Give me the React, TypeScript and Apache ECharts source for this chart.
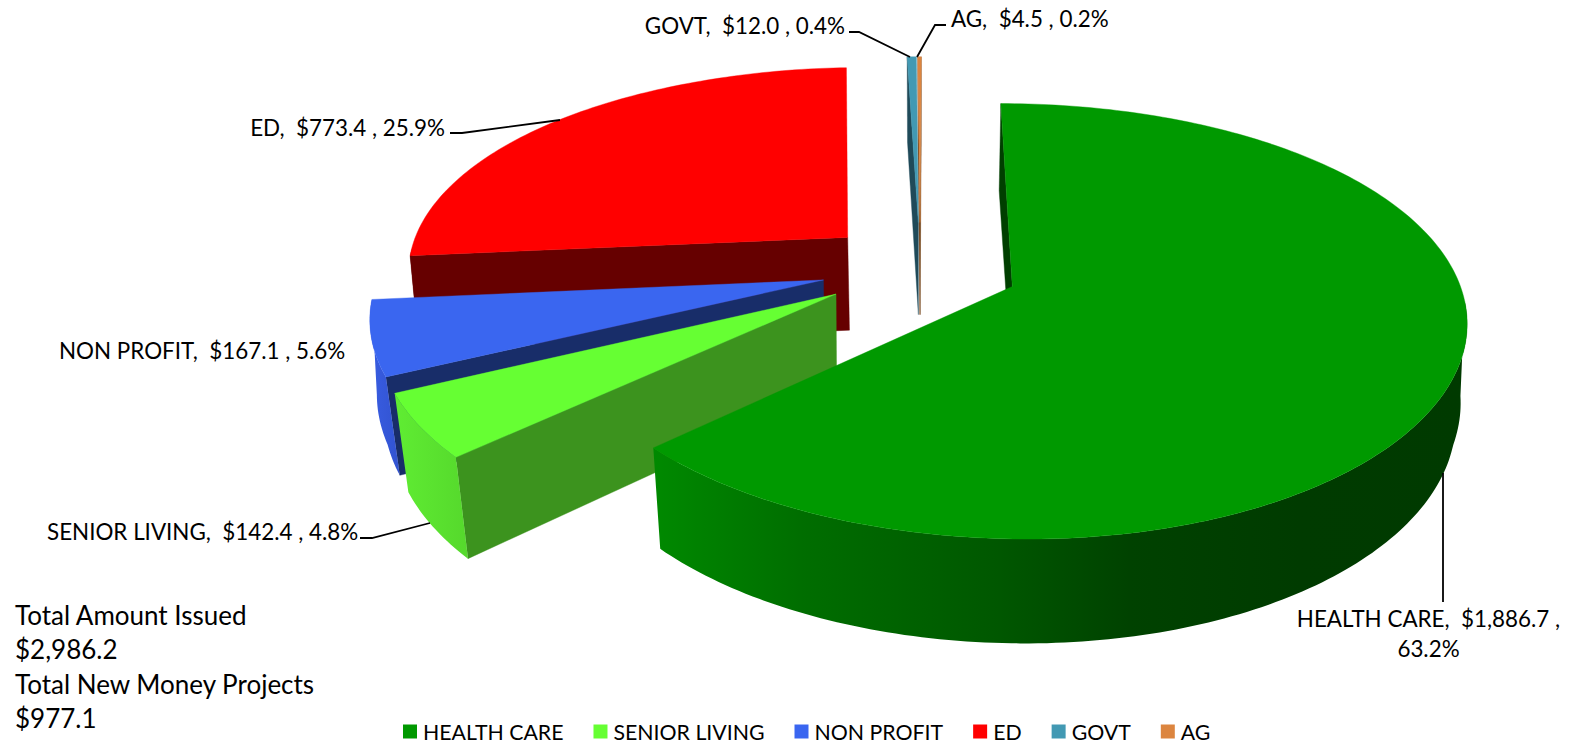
import React, { useEffect, useRef } from "react";
import * as echarts from "echarts";

const categories = ["HEALTH CARE", "SENIOR LIVING", "NON PROFIT", "ED", "GOVT", "AG"];
const amounts = [1886.7, 142.4, 167.1, 773.4, 12.0, 4.5];
const percents = ["63.2%", "4.8%", "5.6%", "25.9%", "0.4%", "0.2%"];
const summaryLines = ["Total Amount Issued", "$2,986.2", "Total New Money Projects", "$977.1"];

const topColors = ["#009900", "#66ff33", "#3a66f0", "#ff0000", "#4299b3", "#dc853f"];
const faceColors = ["#003f00", "#3c931e", "#182d69", "#660000", "#1f4a59", "#7a4a20"];
const rimStops: [number, string][][] = [
  [[650, "#008a00"], [800, "#006e00"], [1000, "#005700"], [1130, "#004200"], [1300, "#003b00"], [1467, "#003a00"]],
  [[390, "#60ee33"], [470, "#55d82c"]],
  [[360, "#3a60e8"], [400, "#3253d0"]],
  [[400, "#660000"], [860, "#660000"]],
  [[900, "#2a6a80"], [930, "#2a6a80"]],
  [[900, "#a86430"], [930, "#a86430"]],
];
// painter order, back to front
const drawOrder = [5, 4, 3, 2, 1, 0];

// projection of the 3D pie
const CX = 920, CY = 267.5, R = 442.5, RY = 207.3, K = 0.14, EXPLODE = 0.225, DEPTH = 94, LEAN = 0.026;
const W = 1570, H = 747;
const FONT = "Lato";
const DEG = Math.PI / 180;

const total = amounts.reduce((a, b) => a + b, 0);
const startAngles: number[] = [];
const endAngles: number[] = [];
amounts.reduce((acc, v, i) => {
  startAngles[i] = (acc / total) * 360;
  endAngles[i] = ((acc + v) / total) * 360;
  return acc + v;
}, 0);

function project(u: number, v: number, bottom: boolean): number[] {
  const s = 1 / (1 - K * v);
  const t = Math.min(1, Math.max(0, 0.2 - u * 1.5));
  let x = CX + R * u * s + t * (1 - 6 * v);
  let y = CY + RY * v * s + 4 * v * v;
  if (bottom) {
    const g = Math.min(1, Math.abs(v - 0.1) * 3 + 0.2) * (x < CX ? 1 : 0.8);
    x -= (x - CX) * LEAN * g;
    y += DEPTH * Math.pow(s, 0.63);
  }
  return [x, y];
}

function renderSlice(index: number, amount: number) {
  const a0 = startAngles[index];
  const a1 = endAngles[index];
  const mid = ((a0 + a1) / 2) * DEG;
  const ax = Math.sin(mid) * EXPLODE;
  const ay = -Math.cos(mid) * EXPLODE;
  const camV = 1 / K;
  const rimAt = (deg: number) => [ax + Math.sin(deg * DEG), ay - Math.cos(deg * DEG)];
  const steps = Math.max(2, Math.ceil(a1 - a0));
  const angles: number[] = [];
  for (let i = 0; i <= steps; i++) angles.push(a0 + ((a1 - a0) * i) / steps);

  const children: any[] = [];
  const poly = (points: number[][], fill: any, seam = true) => ({
    type: "polygon",
    silent: true,
    shape: { points },
    style: seam ? { fill, stroke: fill, lineWidth: 0.4 } : { fill },
  });
  const quad = (deg: number) => {
    const [u, v] = rimAt(deg);
    return [project(ax, ay, false), project(u, v, false), project(u, v, true), project(ax, ay, true)];
  };
  // flat cut faces
  const nStart = [-Math.cos(a0 * DEG), -Math.sin(a0 * DEG)];
  const nEnd = [Math.cos(a1 * DEG), Math.sin(a1 * DEG)];
  const facing = (n: number[]) => -ax * n[0] + (camV - ay) * n[1] > 0;
  if (facing(nEnd)) children.push(poly(quad(a1), faceColors[index]));
  if (facing(nStart)) children.push(poly(quad(a0), faceColors[index]));

  // curved outer wall, only the runs that face the viewer (the top surface hides any overshoot)
  let run: number[] = [];
  const stops = rimStops[index];
  const x0 = stops[0][0];
  const x1 = stops[stops.length - 1][0];
  const gradient = new echarts.graphic.LinearGradient(
    x0, 0, x1, 0,
    stops.map(([x, color]) => ({ offset: (x - x0) / (x1 - x0), color })),
    true
  );
  const flush = () => {
    if (run.length > 1) {
      const top = run.map((d) => { const [u, v] = rimAt(d); return project(u, v, false); });
      const bot = run.map((d) => { const [u, v] = rimAt(d); return project(u, v, true); }).reverse();
      children.push(poly(top.concat(bot), gradient, false));
    }
    run = [];
  };
  angles.forEach((d) => {
    const dir = [Math.sin(d * DEG), -Math.cos(d * DEG)];
    const [u, v] = rimAt(d);
    const vis = -u * dir[0] + (camV - v) * dir[1] > -0.8;
    if (vis) run.push(d);
    else flush();
  });
  flush();

  // top surface
  const topPts = [project(ax, ay, false)].concat(angles.map((d) => { const [u, v] = rimAt(d); return project(u, v, false); }));
  children.push(poly(topPts, topColors[index]));
  return { type: "group", children };
}

const money = (v: number) => v.toLocaleString("en-US", { minimumFractionDigits: 1, maximumFractionDigits: 1 });
const labelOf = (i: number) => `${categories[i]},  $${money(amounts[i])} , ${percents[i]}`;

const LABEL_SIZE = 22.4;
const text = (content: string, x: number, y: number, align = "left", size = LABEL_SIZE) => ({
  type: "text",
  silent: true,
  z: 50,
  style: { text: content, x, y, fill: "#000", font: `${size}px ${FONT}`, textAlign: align, textVerticalAlign: "middle" },
});
const leader = (points: number[][]) => ({
  type: "polyline",
  silent: true,
  z: 40,
  shape: { points },
  style: { stroke: "#000", lineWidth: 1.8, fill: "none" },
});

export default function App() {
  const ref = useRef<HTMLDivElement>(null);
  useEffect(() => {
    document.body.style.margin = "0";
    document.body.style.background = "#fff";
    const chart = echarts.init(ref.current!, undefined, { renderer: "svg" });
    chart.setOption({
      animation: false,
      backgroundColor: "#fff",
      legend: {
        data: categories,
        left: 403,
        top: 721,
        padding: 0,
        itemWidth: 14,
        itemHeight: 14,
        itemGap: 30,
        icon: "rect",
        selectedMode: false,
        textStyle: { fontFamily: FONT, fontSize: 21.3, color: "#000", padding: [0, 0, 0, 1] },
      },
      series: drawOrder.map((i, order) => ({
        type: "custom",
        name: categories[i],
        coordinateSystem: "none",
        z: 2 + order,
        silent: true,
        itemStyle: { color: topColors[i] },
        data: [[amounts[i]]],
        renderItem: (_p: any, api: any) => renderSlice(i, api.value(0)),
      })),
      graphic: [
        leader([[849, 32], [859, 32], [910, 57]]),
        leader([[917, 57], [935, 25], [946, 25]]),
        leader([[450, 133], [462, 133], [560, 120]]),
        leader([[360, 538], [372, 538], [430, 523]]),
        leader([[1443, 473], [1443, 602]]),
        text(labelOf(4), 845, 25, "right"),
        text(labelOf(5), 951, 18),
        text(labelOf(3), 445, 127, "right"),
        text(labelOf(2), 59, 350),
        text(labelOf(1), 47, 531),
        text(`${categories[0]},  $${money(amounts[0])} ,`, 1428.5, 618, "center"),
        text(percents[0], 1428.5, 648, "center"),
        ...summaryLines.map((l, i) => text(l, 15, 615 + i * 34.3, "left", 26)),
      ],
    });
    return () => chart.dispose();
  }, []);
  return <div ref={ref} style={{ position: "absolute", left: 0, top: 0, width: W, height: H }} />;
}
